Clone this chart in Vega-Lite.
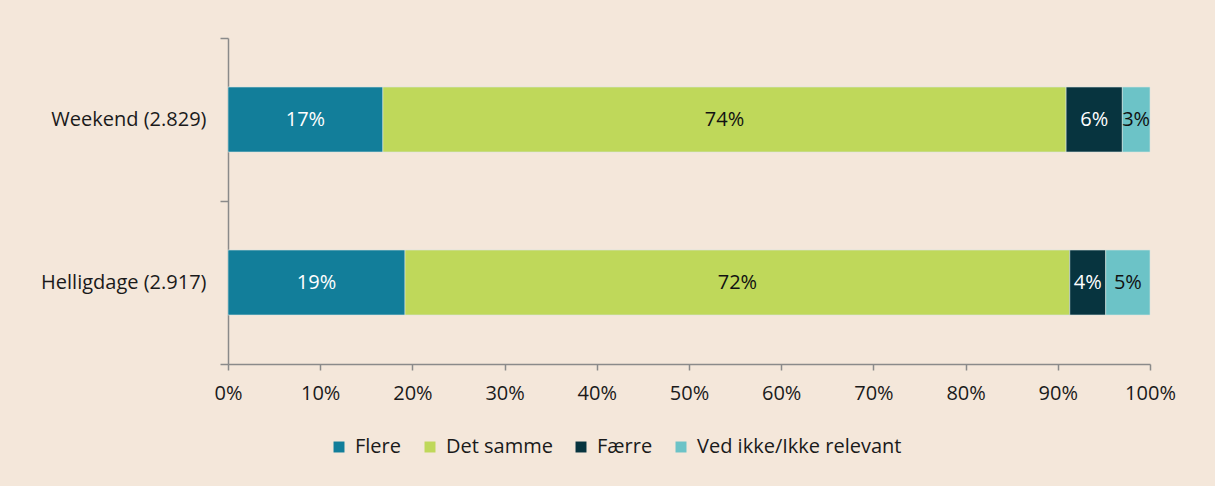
{
  "$schema": "https://vega.github.io/schema/vega-lite/v6.json",
  "width": 922,
  "height": 326,
  "autosize": {"type": "none"},
  "padding": {"left": 228, "top": 38, "right": 65, "bottom": 122},
  "background": "#f4e7da",
  "config": {
    "view": {"stroke": null},
    "font": "Open Sans",
    "axis": {"domainColor": "#8a8a8a", "tickColor": "#8a8a8a", "domainWidth": 1.5, "tickWidth": 1.5, "labelColor": "#1a1a1a", "labelFontSize": 20, "grid": false, "title": null}
  },
  "data": {
    "values": [
      {"cat": "Weekend (2.829)", "resp": "Flere", "ord": 1, "v": 0.168},
      {"cat": "Weekend (2.829)", "resp": "Det samme", "ord": 2, "v": 0.741},
      {"cat": "Weekend (2.829)", "resp": "Færre", "ord": 3, "v": 0.061},
      {"cat": "Weekend (2.829)", "resp": "Ved ikke/Ikke relevant", "ord": 4, "v": 0.030},
      {"cat": "Helligdage (2.917)", "resp": "Flere", "ord": 1, "v": 0.192},
      {"cat": "Helligdage (2.917)", "resp": "Det samme", "ord": 2, "v": 0.721},
      {"cat": "Helligdage (2.917)", "resp": "Færre", "ord": 3, "v": 0.039},
      {"cat": "Helligdage (2.917)", "resp": "Ved ikke/Ikke relevant", "ord": 4, "v": 0.048}
    ]
  },
  "transform": [
    {"stack": "v", "groupby": ["cat"], "sort": [{"field": "ord", "order": "ascending"}], "as": ["x0", "x1"]},
    {"calculate": "(datum.x0 + datum.x1) / 2", "as": "xm"}
  ],
  "encoding": {
    "y": {
      "field": "cat", "type": "nominal",
      "sort": ["Weekend (2.829)", "Helligdage (2.917)"],
      "scale": {"paddingInner": 0, "paddingOuter": 0},
      "axis": {"tickBand": "extent", "tickSize": 8, "labelPadding": 14, "labelFontSize": 20, "labelLimit": 0}
    }
  },
  "layer": [
    {
      "mark": {"type": "bar", "size": 65, "stroke": "#d9e4e0", "strokeWidth": 0.6},
      "encoding": {
        "x": {"field": "x0", "type": "quantitative", "scale": {"domain": [0, 1], "nice": false},
          "axis": {"format": ".0%", "values": [0,0.1,0.2,0.3,0.4,0.5,0.6,0.7,0.8,0.9,1], "labelOverlap": false, "labelFlush": false, "tickSize": 6, "labelPadding": 13, "labelFontSize": 20}},
        "x2": {"field": "x1"},
        "color": {
          "field": "resp", "type": "nominal",
          "scale": {"domain": ["Flere", "Det samme", "Færre", "Ved ikke/Ikke relevant"], "range": ["#127e9a", "#bfd85a", "#07343f", "#6cc3c7"]},
          "legend": {"title": null, "orient": "none", "direction": "horizontal", "legendX": 101, "legendY": 399, "symbolType": "square", "symbolSize": 120, "symbolStrokeWidth": 0, "labelFontSize": 20, "labelColor": "#1a1a1a", "labelLimit": 0, "columnPadding": 18, "labelOffset": 6}
        },
        "order": {"field": "ord"}
      }
    },
    {
      "mark": {"type": "text", "fontSize": 20, "align": "center", "baseline": "middle"},
      "encoding": {
        "x": {"field": "xm", "type": "quantitative"},
        "text": {"field": "v", "type": "quantitative", "format": ".0%"},
        "color": {
          "condition": {"test": "datum.resp === 'Flere' || datum.resp === 'Færre'", "value": "#ffffff"},
          "value": "#111111"
        }
      }
    }
  ]
}
